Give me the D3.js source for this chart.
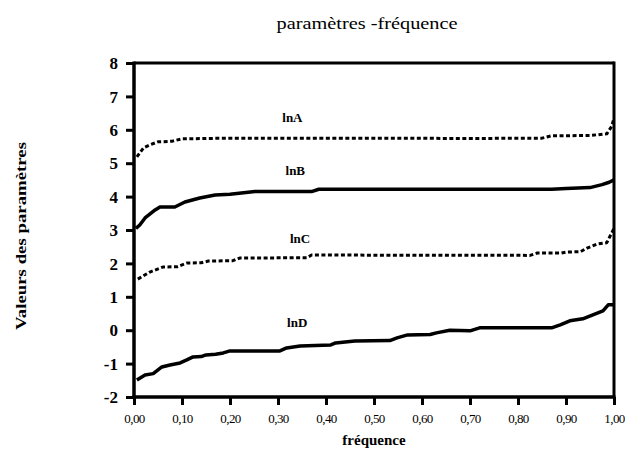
<!DOCTYPE html>
<html><head><meta charset="utf-8">
<script src="https://cdn.jsdelivr.net/npm/d3@7"></script>
<style>
body{margin:0;background:#fff;}
svg text{font-family:"Liberation Serif","Times New Roman","DejaVu Serif",serif;fill:#000;}
</style></head>
<body><svg id="c" width="625" height="466"></svg>
<script>
// ---- data ----
const yTicks = [-2,-1,0,1,2,3,4,5,6,7,8];
const yTickLabels = ["-2","-1","0","1","2","3","4","5","6","7","8"];
const xTicks = [0,0.1,0.2,0.3,0.4,0.5,0.6,0.7,0.8,0.9,1.0];
const xTickLabels = ["0,00","0,10","0,20","0,30","0,40","0,50","0,60","0,70","0,80","0,90","1,00"];

const freqA = [0.006,0.02,0.033,0.05,0.07,0.08,0.1,0.2,0.3,0.5,0.7,0.85,0.87,0.95,0.985,0.995,1.0];
const lnA   = [5.19,5.46,5.55,5.64,5.65,5.66,5.73,5.75,5.75,5.75,5.74,5.75,5.82,5.83,5.88,6.1,6.35];

const freqB = [0.004,0.012,0.023,0.044,0.054,0.085,0.106,0.137,0.169,0.2,0.252,0.37,0.385,0.87,0.9,0.95,0.975,0.99,1.0];
const lnB   = [3.05,3.15,3.36,3.6,3.69,3.69,3.84,3.96,4.05,4.07,4.15,4.15,4.22,4.22,4.24,4.27,4.36,4.43,4.5];

const freqC = [0.008,0.033,0.06,0.09,0.11,0.14,0.155,0.206,0.22,0.36,0.37,0.825,0.84,0.89,0.9,0.93,0.944,0.965,0.985,0.993,1.0];
const lnC   = [1.53,1.74,1.89,1.9,2.01,2.02,2.07,2.08,2.16,2.17,2.25,2.24,2.31,2.31,2.34,2.35,2.46,2.58,2.62,2.85,3.05];

const freqD = [0.006,0.023,0.04,0.058,0.075,0.096,0.11,0.123,0.14,0.15,0.17,0.186,0.2,0.304,0.318,0.346,0.41,0.42,0.46,0.533,0.548,0.57,0.617,0.63,0.658,0.7,0.72,0.87,0.888,0.908,0.935,0.956,0.977,0.988,1.0];
const lnD   = [-1.49,-1.34,-1.3,-1.1,-1.04,-0.98,-0.89,-0.8,-0.79,-0.74,-0.72,-0.68,-0.62,-0.62,-0.53,-0.47,-0.44,-0.38,-0.32,-0.31,-0.23,-0.14,-0.13,-0.08,0.0,-0.02,0.07,0.07,0.16,0.28,0.34,0.46,0.58,0.76,0.76];

const seriesNames = ["lnA","lnB","lnC","lnD"];

// ---- chart ----
const FONT = '"Liberation Serif","Times New Roman","DejaVu Serif",serif';
const svg = d3.select("#c");
const L = 134, R = 614, T = 63, B = 397;
const x = d3.scaleLinear().domain([0,1]).range([L,R]);
const y = d3.scaleLinear().domain([-2,8]).range([B,T]);

const series = [
  {name:seriesNames[0], f:freqA, v:lnA, dash:"4,2.5", w:3, lx:0.33, ly:122},
  {name:seriesNames[1], f:freqB, v:lnB, dash:null, w:3.5, lx:0.336, ly:175},
  {name:seriesNames[2], f:freqC, v:lnC, dash:"4,2.5", w:3, lx:0.346, ly:243},
  {name:seriesNames[3], f:freqD, v:lnD, dash:null, w:3.5, lx:0.34, ly:327}
];

const line = d3.line().x(d=>x(d[0])).y(d=>y(d[1]));
series.forEach(s=>{
  svg.append("path")
    .datum(s.f.map((f,i)=>[f,s.v[i]]))
    .attr("d",line)
    .attr("fill","none").attr("stroke","#000")
    .attr("stroke-width",s.w)
    .attr("stroke-linejoin","round")
    .attr("stroke-dasharray",s.dash);
  svg.append("text").attr("x",x(s.lx)).attr("y",s.ly)
    .attr("text-anchor","middle").attr("font-size",13).attr("font-weight","bold")
    .attr("font-family",FONT)
    .text(s.name);
});

// frame top/right
svg.append("line").attr("x1",L).attr("x2",R).attr("y1",T).attr("y2",T).attr("stroke","#000").attr("stroke-width",3);
svg.append("line").attr("x1",R).attr("x2",R).attr("y1",T-1.5).attr("y2",B).attr("stroke","#000").attr("stroke-width",3);

// axes
const yAxis = svg.append("g").attr("transform",`translate(${L},0)`)
  .call(d3.axisLeft(y).tickValues(yTicks).tickSize(8).tickSizeOuter(0).tickPadding(8).tickFormat((d,i)=>yTickLabels[i]));
yAxis.attr("font-family",FONT);
yAxis.selectAll("text").attr("font-size",17).attr("font-weight","bold").attr("font-family",FONT).attr("dy","0.34em");
const xAxis = svg.append("g").attr("transform",`translate(0,${B})`)
  .call(d3.axisBottom(x).tickValues(xTicks).tickSize(8).tickSizeOuter(0).tickPadding(9).tickFormat((d,i)=>xTickLabels[i]));
xAxis.attr("font-family",FONT);
xAxis.selectAll("text").attr("font-size",13).attr("font-family",FONT).attr("letter-spacing","-0.6");
[yAxis,xAxis].forEach(g=>{
  g.selectAll("path.domain").attr("stroke-width",3.5).attr("stroke","#000");
  g.selectAll(".tick line").attr("stroke-width",3).attr("stroke","#000");
});
xAxis.select("path.domain").attr("d",`M${L-1.5},0H${R+1.5}`);
yAxis.select("path.domain").attr("d",`M0,${T-1.5}V${B+1.5}`);

// titles
svg.append("text").attr("x",367).attr("y",29).attr("text-anchor","middle")
  .attr("font-size",17).attr("font-family",FONT).attr("textLength",181).attr("lengthAdjust","spacingAndGlyphs")
  .text("paramètres -fréquence");
svg.append("text").attr("transform","translate(26,236) rotate(-90)").attr("text-anchor","middle")
  .attr("font-size",15).attr("font-weight","bold").attr("font-family",FONT).attr("textLength",188).attr("lengthAdjust","spacingAndGlyphs")
  .text("Valeurs des paramètres");
svg.append("text").attr("x",374).attr("y",445).attr("text-anchor","middle")
  .attr("font-size",15).attr("font-weight","bold").attr("font-family",FONT)
  .text("fréquence");
</script></body></html>
